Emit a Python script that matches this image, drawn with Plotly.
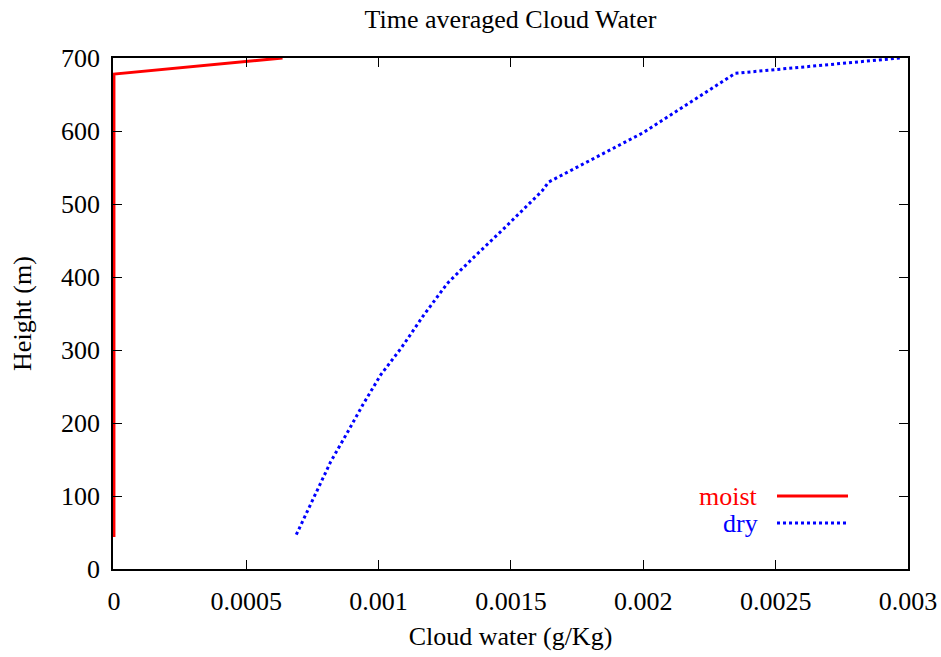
import plotly.graph_objects as go

# Data
moist_x = [0.0, 0.0, 0.000637]
moist_y = [44, 678, 700]

dry_x = [0.000689, 0.000765, 0.000819, 0.000882, 0.000942, 0.001008, 0.001086,
         0.001169, 0.001259, 0.001348, 0.001475, 0.001618, 0.001642, 0.002001,
         0.002347, 0.00297]
dry_y = [47, 105, 147, 187, 226, 266, 303, 347, 391, 423, 467, 518, 530, 598,
         679, 700]

x_ticks = [0, 0.0005, 0.001, 0.0015, 0.002, 0.0025, 0.003]
x_tick_labels = ["0", "0.0005", "0.001", "0.0015", "0.002", "0.0025", "0.003"]
y_ticks = [0, 100, 200, 300, 400, 500, 600, 700]

FONT = "Liberation Serif"
FS = 26

fig = go.Figure()
fig.add_trace(go.Scatter(x=moist_x, y=moist_y, mode="lines", name="moist",
                         line=dict(color="#ff0000", width=3), showlegend=False))
fig.add_trace(go.Scatter(x=dry_x, y=dry_y, mode="lines", name="dry",
                         line=dict(color="#0000ff", width=3, dash="dot"),
                         showlegend=False))

axis_common = dict(showgrid=False, zeroline=False, showline=True, mirror="allticks",
                   linecolor="black", linewidth=1.5, ticks="inside", ticklen=9,
                   tickwidth=1.2, tickcolor="black", automargin=False,
                   tickfont=dict(family=FONT, size=FS, color="black"))

fig.update_layout(
    width=941, height=657,
    margin=dict(l=113, r=33, t=58, b=88),
    paper_bgcolor="white", plot_bgcolor="white",
    font=dict(family=FONT, color="black"),
    title=dict(text="Time averaged Cloud Water", x=0.5, xref="paper", xanchor="center",
               y=1 - 19 / 657, yanchor="middle", automargin=False,
               font=dict(family=FONT, size=FS, color="black")),
    xaxis=dict(range=[-0.0000035, 0.003], tickvals=x_ticks, ticktext=x_tick_labels,
               ticklabelstandoff=8,
               title=dict(text="Cloud water (g/Kg)", standoff=12,
                          font=dict(family=FONT, size=FS)),
               **axis_common),
    yaxis=dict(range=[0, 700], tickvals=y_ticks, ticklabelstandoff=6,
               title=dict(text="Height (m)", standoff=22,
                          font=dict(family=FONT, size=FS)),
               **axis_common),
    showlegend=False,
)

# gnuplot-style key: text on the left, sample on the right
def px_x(p):
    return (p - 113) / (908 - 113)

def px_y(p):
    return (569 - p) / (569 - 58)

for label, color, ypix, dash in [("moist", "#ff0000", 496, "solid"),
                                 ("dry", "#0000ff", 523, "dot")]:
    fig.add_annotation(x=px_x(760), y=px_y(ypix), xref="paper", yref="paper",
                       text=label, showarrow=False, xanchor="right", yanchor="middle",
                       font=dict(family=FONT, size=FS, color=color))
    fig.add_shape(type="line", xref="paper", yref="paper",
                  x0=px_x(777), x1=px_x(848), y0=px_y(ypix), y1=px_y(ypix),
                  line=dict(color=color, width=3, dash=dash))

fig.write_html("out.html")
